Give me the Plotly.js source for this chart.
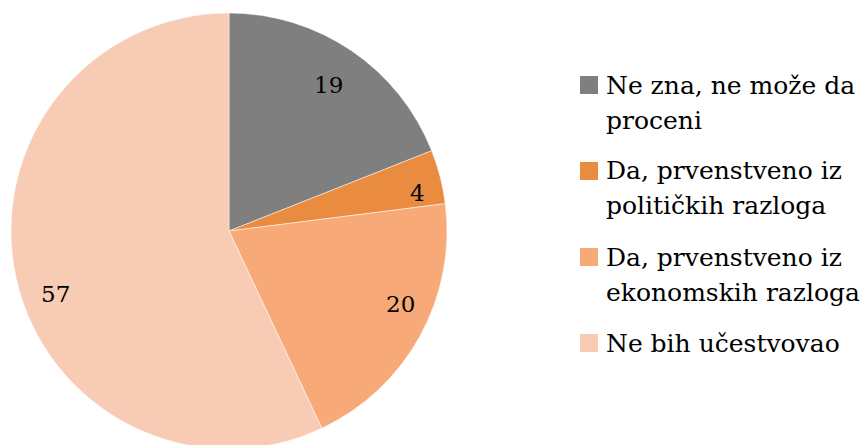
<!DOCTYPE html>
<html>
<head>
<meta charset="utf-8">
<script src="https://cdn.plot.ly/plotly-3.0.1.min.js"></script>
<style>
  html, body { margin: 0; padding: 0; overflow: hidden; background: #fff; }
  #chart { width: 863px; height: 462px; }
</style>
</head>
<body>
<div id="chart"></div>
<script>
const labels = ["Ne zna, ne može da<br>proceni", "Da, prvenstveno iz<br>političkih razloga", "Da, prvenstveno iz<br>ekonomskih razloga", "Ne bih učestvovao"];
const values = [19, 4, 20, 57];
const colors = ["#7f7f7f", "#e98c40", "#f7aa78", "#f8cbb4"];

// label placement style (radius fraction, angle shift in degrees)
const labelRadius = [0.81, 0.88, 0.855, 0.845];
const labelShift = [0, 3, -5.7, -7.4];

const W = 863, H = 462, T = 13, B = 13;
const plotH = H - T - B;
const R = plotH / 2;
const cx = 229, cy = T + R;
const fontFam = "DejaVu Serif, Liberation Serif, serif";
const toPX = (px) => px / W;
const toPY = (py) => 1 - (py - T) / plotH;

const annotations = [];
const shapes = [];

// value labels at slice angles
const total = values.reduce((a, b) => a + b, 0);
let cum = 0;
values.forEach((v, i) => {
  const mid = ((cum + v / 2) / total * 360 + labelShift[i]) * Math.PI / 180;
  cum += v;
  const r = R * labelRadius[i];
  annotations.push({
    x: toPX(cx + r * Math.sin(mid)), y: toPY(cy - r * Math.cos(mid)),
    xref: "paper", yref: "paper",
    text: String(v), showarrow: false,
    font: { family: fontFam, size: 23, color: "#000" },
    xanchor: "center", yanchor: "middle"
  });
});

// custom legend
const legX = 580, legTop = 76, itemStep = 86, sq = 18, lineStep = 35, textX = 604;
labels.forEach((lab, i) => {
  const top = legTop + i * itemStep;
  shapes.push({
    type: "rect", xref: "paper", yref: "paper",
    x0: toPX(legX), x1: toPX(legX + sq),
    y0: toPY(top), y1: toPY(top + sq),
    fillcolor: colors[i], line: { width: 0 }
  });
  lab.split("<br>").forEach((line, j) => {
    annotations.push({
      x: toPX(textX), y: toPY(top + sq / 2 + j * lineStep),
      xref: "paper", yref: "paper",
      text: line, showarrow: false,
      font: { family: fontFam, size: 25, color: "#000" },
      xanchor: "left", yanchor: "middle"
    });
  });
});

const data = [{
  type: "pie",
  labels: labels,
  values: values,
  sort: false,
  direction: "clockwise",
  rotation: 0,
  textinfo: "none",
  hoverinfo: "label+value",
  marker: { colors: colors, line: { color: "#ffffff", width: 0.5 } },
  domain: { x: [(cx - R) / W, (cx + R) / W], y: [0, 1] }
}];

const layout = {
  width: W, height: H,
  margin: { l: 0, r: 0, t: T, b: B, pad: 0 },
  paper_bgcolor: "#fff",
  plot_bgcolor: "#fff",
  showlegend: false,
  annotations: annotations,
  shapes: shapes
};

Plotly.newPlot("chart", data, layout, { displayModeBar: false, staticPlot: true });
</script>
</body>
</html>
